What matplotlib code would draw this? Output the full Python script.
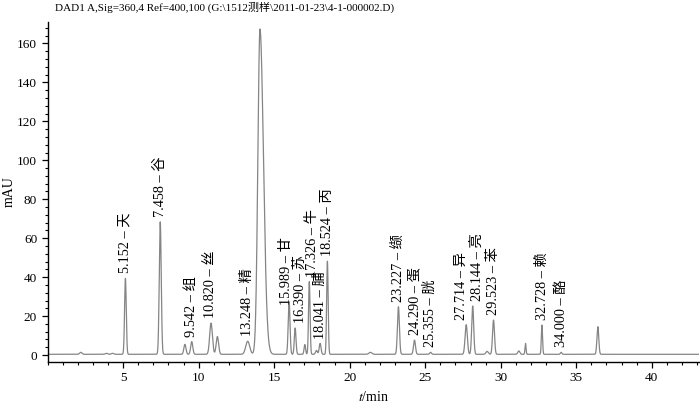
import numpy as np
import matplotlib.pyplot as plt
from matplotlib.ticker import MultipleLocator

plt.rcParams['font.family'] = ['Liberation Serif', 'Noto Sans CJK SC']
plt.rcParams['mathtext.fontset'] = 'stix'

# peaks with a label: retention time (min), height (mAU), width (sigma, min), name
rt_lab = [5.152, 7.458, 9.542, 10.820, 13.248, 15.989, 16.390, 17.326, 18.041, 18.524,
          23.227, 24.290, 25.355, 27.714, 28.144, 29.523, 32.728, 34.000]
h_lab = [39.0, 68.0, 6.5, 16.0, 6.7, 27.0, 13.5, 37.3, 5.6, 47.8,
         24.4, 7.3, 1.0, 15.2, 24.8, 17.6, 15.0, 1.0]
w_lab = [0.055, 0.065, 0.07, 0.09, 0.13, 0.06, 0.055, 0.05, 0.06, 0.05,
         0.065, 0.065, 0.06, 0.075, 0.065, 0.065, 0.04, 0.05]
names = ['天', '谷', '组', '丝', '精', '甘', '苏', '牛', '脯', '丙',
         '缬', '蛋', '胱', '异', '亮', '苯', '赖', '酪']

# peaks without a label
rt_oth = [2.2, 3.9, 4.3, 9.09, 11.24, 14.06, 17.03, 17.8, 21.37, 29.1, 31.2, 31.64, 36.43]
h_oth = [1.0, 0.5, 0.5, 5.1, 9.1, 167.0, 5.0, 2.0, 1.0, 1.5, 1.7, 5.6, 14.2]
w_oth = [0.08, 0.08, 0.08, 0.07, 0.08, 0.14, 0.05, 0.06, 0.1, 0.08, 0.07, 0.035, 0.06]
# right side widening (tailing) of the unlabelled peaks
tail_oth = [1, 1, 1, 1, 1, 1.65, 1, 1, 1, 1, 1, 1, 1]

baseline = 0.4

# label nudges in points (dx, dy)
nudge = {5: (-2, -6), 6: (4, 0), 7: (2, 0), 13: (-3.5, 0), 14: (3, 0)}

def peak(t, rt, h, w, tail=1.0):
    s = np.where(t < rt, w, w * tail)
    return h * np.exp(-0.5 * ((t - rt) / s) ** 2)

t = np.linspace(0, 43.2, 8000)
y = np.full_like(t, baseline)
for rt, h, w in zip(rt_lab, h_lab, w_lab):
    y += peak(t, rt, h, w)
for rt, h, w, tl in zip(rt_oth, h_oth, w_oth, tail_oth):
    y += peak(t, rt, h, w, tl)

fig = plt.figure(figsize=(7, 4.08), dpi=100)
ax = fig.add_axes([0.068, 0.113, 0.93, 0.833])
ax.plot(t, y, color='#858585', lw=0.9)

for i, (rt, h, nm) in enumerate(zip(rt_lab, h_lab, names)):
    dx, dy = nudge.get(i, (0, 0))
    ax.annotate('%.3f – %s' % (rt, nm), xy=(rt, h + baseline), xytext=(dx, 3.5 + dy),
                textcoords='offset points', rotation=90, ha='center', va='bottom',
                fontsize=10.3)

ax.set_xlim(0, 43.1)
ax.set_ylim(-3.5, 171)
ax.xaxis.set_major_locator(MultipleLocator(5))
ax.xaxis.set_minor_locator(MultipleLocator(1))
ax.yaxis.set_major_locator(MultipleLocator(20))
ax.yaxis.set_minor_locator(MultipleLocator(4))
ax.set_xticks([5, 10, 15, 20, 25, 30, 35, 40])
ax.tick_params(which='major', direction='out', length=4, width=0.9, labelsize=9.5)
ax.tick_params(which='minor', direction='out', length=2.5, width=0.8)
for side in ['top', 'right']:
    ax.spines[side].set_visible(False)
for side in ['left', 'bottom']:
    ax.spines[side].set_linewidth(1.0)

ax.set_ylabel('mAU', fontsize=10, labelpad=1)
ax.set_xlabel('$t$/min', fontsize=10, labelpad=4)

fig.text(0.079, 0.995, 'DAD1 A,Sig=360,4 Ref=400,100 (G:\\1512测样\\2011-01-23\\4-1-000002.D)',
         fontsize=8, ha='left', va='top')

fig.savefig('out.png', dpi=100)
